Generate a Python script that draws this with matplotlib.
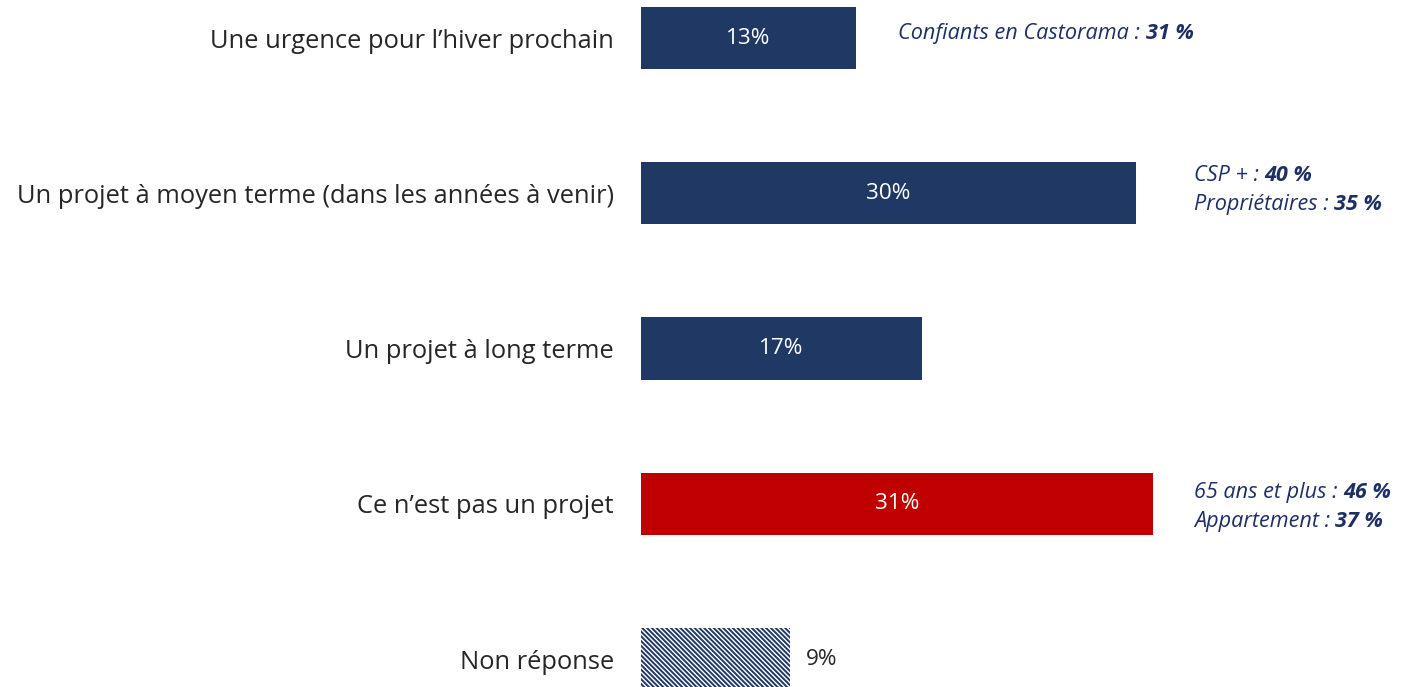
import matplotlib
matplotlib.use("Agg")
import matplotlib.pyplot as plt  # type: ignore

plt.rcParams["font.family"] = ["Open Sans", "DejaVu Sans"]
plt.rcParams["hatch.linewidth"] = 1.4

NAVY = "#203864"
RED = "#C00000"
NOTE = "#1F2F66"

categories = [
    "Une urgence pour l\u2019hiver prochain",
    "Un projet \u00e0 moyen terme (dans les ann\u00e9es \u00e0 venir)",
    "Un projet \u00e0 long terme",
    "Ce n\u2019est pas un projet",
    "Non r\u00e9ponse",
]
values = [13, 30, 17, 31, 9]
value_labels = ["13%", "30%", "17%", "31%", "9%"]

# side notes: (row, [(plain text, bold figure), ...])
notes = [
    (0, [("Confiants en Castorama : ", "31 %")]),
    (1, [("CSP + : ", "40 %"), ("Propri\u00e9taires : ", "35 %")]),
    (3, [("65 ans et plus : ", "46 %"), ("Appartement : ", "37 %")]),
]
note_x = {0: 15.6, 1: 33.5, 3: 33.5}
note_shift = {0: -0.03, 1: -0.02, 3: 0.02}


def main() -> None:
    fig = plt.figure(figsize=(14.01, 6.87), dpi=100)
    ax = fig.add_axes([641 / 1401, 0, 760 / 1401, 1])

    ypos = list(range(len(categories)))
    colors = [NAVY, NAVY, NAVY, RED, "white"]
    bars = ax.barh(ypos, values, height=0.4, color=colors)
    nr = bars[-1]
    nr.set_hatch("\\" * 7)
    nr.set_edgecolor(NAVY)
    nr.set_linewidth(0)

    for i, (v, lab) in enumerate(zip(values, value_labels)):
        if i == len(values) - 1:
            ax.text(v + 1.0, i, lab, ha="left", va="center", fontsize=16.2, color="#262626")
        else:
            ax.text(v / 2, i, lab, ha="center", va="center", fontsize=16.2, color="white")

    ax.set_xlim(0, 46.06)
    ax.set_ylim(4.18, -0.245)
    ax.set_yticks(ypos)
    ax.set_yticklabels(categories, fontsize=18.4, color="#262626")
    ax.tick_params(axis="y", length=0, pad=19.5)
    ax.set_xticks([])
    for s in ax.spines.values():
        s.set_visible(False)

    for row, lines in notes:
        n = len(lines)
        for k, (plain, bold) in enumerate(lines):
            y = row + note_shift[row] + (k - (n - 1) / 2) * 0.185
            t = ax.text(note_x[row], y, plain, ha="left", va="center",
                        fontsize=15.6, style="italic", color=NOTE)
            ax.annotate(bold, xy=(1, 0.5), xycoords=t, ha="left", va="center",
                        fontsize=15.6, style="italic", weight="bold", color=NOTE)

    fig.savefig("out.png", dpi=100)


if __name__ == "__main__":
    main()
